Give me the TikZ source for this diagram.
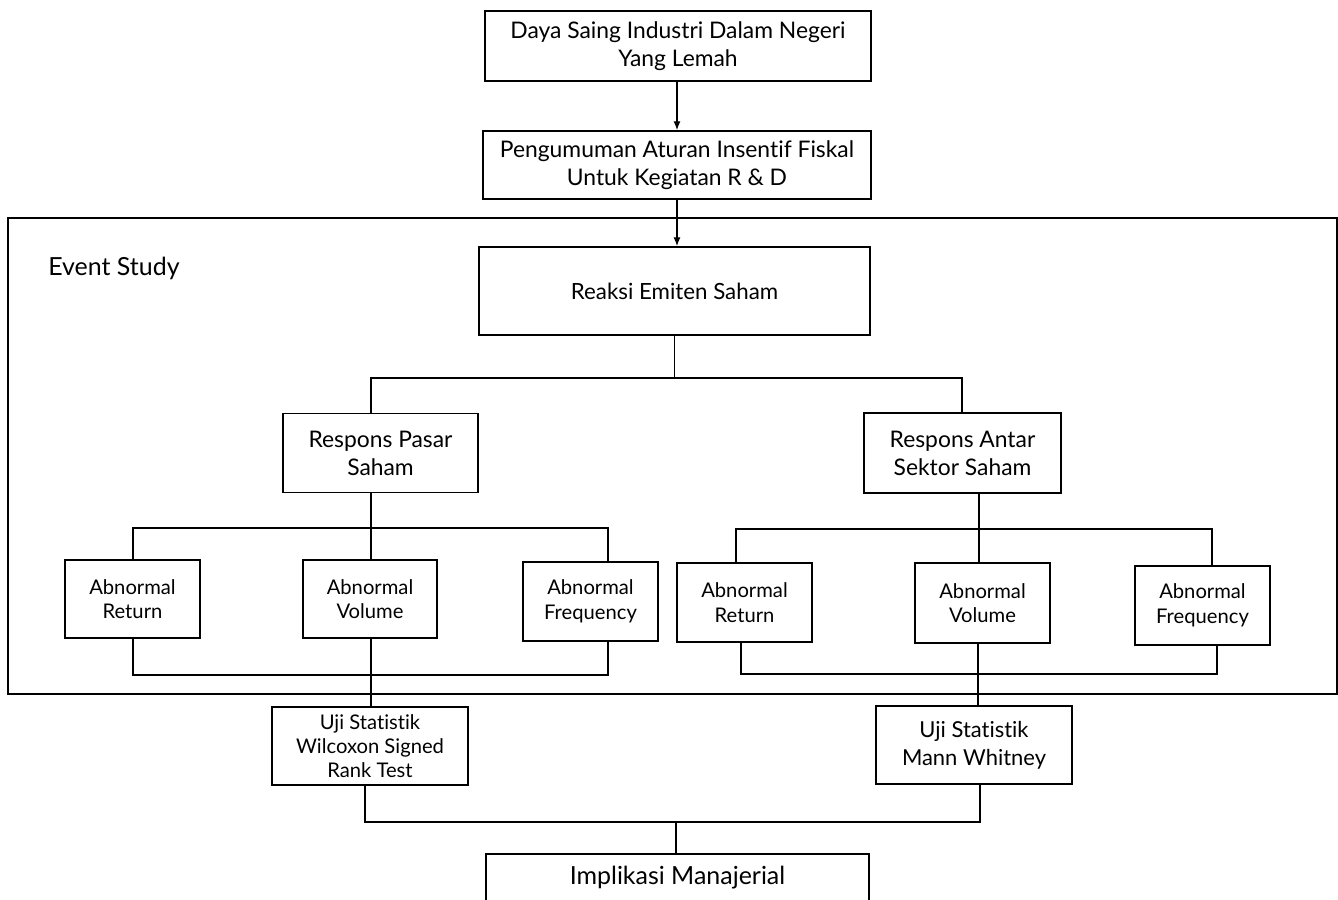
\documentclass[tikz,border=0pt]{standalone}
\usepackage{fontspec}
\setmainfont{Lato}[Ligatures={NoCommon,NoRare}]
\usetikzlibrary{arrows.meta}
\begin{document}
\begin{tikzpicture}[x=0.02cm,y=-0.02cm,
  box/.style={draw,line width=1.1pt,align=center,inner sep=0pt,font=\fontsize{13}{16}\selectfont},
  small/.style={box,font=\fontsize{11.5}{14}\selectfont},
  conn/.style={line width=0.6pt},
  arr/.style={conn,-{Latex[length=5pt,width=4pt]}}]
\useasboundingbox (0,0) rectangle (1338,899);
\clip (0,0) rectangle (1338,899);
% frame
\node[draw,line width=1.1pt,minimum width={1329*0.02cm},minimum height={476*0.02cm},inner sep=0pt] (frame) at (672.5,456) {};
\node[font=\fontsize{14.2}{16}\selectfont,anchor=west,inner sep=0pt] (ev) at (48,268) {Event Study};
% boxes
\node[box,minimum width={386*0.02cm},minimum height={70*0.02cm}] (top) at (678,46) {Daya Saing Industri Dalam Negeri\\Yang Lemah};
\node[box,minimum width={388*0.02cm},minimum height={68*0.02cm}] (rule) at (677,165) {Pengumuman Aturan Insentif Fiskal\\Untuk Kegiatan R \& D};
\node[box,font=\fontsize{12.7}{16}\selectfont,minimum width={391*0.02cm},minimum height={88*0.02cm}] (reaksi) at (674.5,291) {Reaksi Emiten Saham};
\node[box,minimum width={195*0.02cm},minimum height={79*0.02cm}] (pasar) at (380.5,453) {Respons Pasar\\Saham};
\node[box,minimum width={197*0.02cm},minimum height={80*0.02cm}] (antar) at (962.5,453) {Respons Antar\\Sektor Saham};
\node[small,minimum width={135*0.02cm},minimum height={78*0.02cm}] (ar1) at (132.5,599) {Abnormal\\Return};
\node[small,minimum width={134*0.02cm},minimum height={78*0.02cm}] (av1) at (370,599) {Abnormal\\Volume};
\node[small,minimum width={135*0.02cm},minimum height={79*0.02cm}] (af1) at (590.5,601.5) {Abnormal\\Frequency};
\node[small,minimum width={135*0.02cm},minimum height={79*0.02cm}] (ar2) at (744.5,602.5) {Abnormal\\Return};
\node[small,minimum width={135*0.02cm},minimum height={80*0.02cm}] (av2) at (982.5,603) {Abnormal\\Volume};
\node[small,minimum width={135*0.02cm},minimum height={79*0.02cm}] (af2) at (1202.5,605.5) {Abnormal\\Frequency};
\node[box,font=\fontsize{11.5}{13.6}\selectfont,minimum width={196*0.02cm},minimum height={78*0.02cm}] (uji1) at (370,746) {Uji Statistik\\Wilcoxon Signed\\Rank Test};
\node[box,font=\fontsize{12.5}{16}\selectfont,minimum width={196*0.02cm},minimum height={78*0.02cm}] (uji2) at (974,745) {Uji Statistik\\Mann Whitney};
\node[box,font=\fontsize{14.2}{16}\selectfont,minimum width={383*0.02cm},minimum height={48*0.02cm}] (impl) at (677.5,878) {Implikasi Manajerial};
% coordinates
\coordinate (p1) at (371,378); \coordinate (p2) at (962,378);
\coordinate (q0) at (371,528); \coordinate (q1) at (133,528); \coordinate (q2) at (608,528);
\coordinate (r1) at (133,675); \coordinate (r2) at (608,675);
\coordinate (s0) at (979,529); \coordinate (s1) at (736,529); \coordinate (s2) at (1212,529);
\coordinate (t1) at (741,674); \coordinate (t2) at (1217,674); \coordinate (t0) at (978,674);
\coordinate (u0) at (676,822); \coordinate (u1) at (365,822); \coordinate (u2) at (980,822);
% connectors
\draw[arr] (top.south -| rule.north) -- (rule.north);
\draw[arr] (rule.south) -- (rule.south |- reaksi.north);
\draw[conn] (reaksi.south) -- (reaksi.south |- p1);
\draw[conn] (pasar.north -| p1) -- (p1) -- (p2) -- (antar.north -| p2);
\draw[conn] (pasar.south -| q0) -- (q0) -- (av1.north -| q0);
\draw[conn] (ar1.north -| q1) -- (q1) -- (q2) -- (af1.north -| q2);
\draw[conn] (ar1.south -| r1) -- (r1) -- (r2) -- (af1.south -| r2);
\draw[conn] (av1.south -| q0) -- (uji1.north -| q0);
\draw[conn] (antar.south -| s0) -- (s0) -- (av2.north -| s0);
\draw[conn] (ar2.north -| s1) -- (s1) -- (s2) -- (af2.north -| s2);
\draw[conn] (ar2.south -| t1) -- (t1) -- (t2) -- (af2.south -| t2);
\draw[conn] (av2.south -| t0) -- (uji2.north -| t0);
\draw[conn] (uji1.south -| u1) -- (u1) -- (u2) -- (uji2.south -| u2);
\draw[conn] (u0) -- (impl.north -| u0);
\end{tikzpicture}
\end{document}
